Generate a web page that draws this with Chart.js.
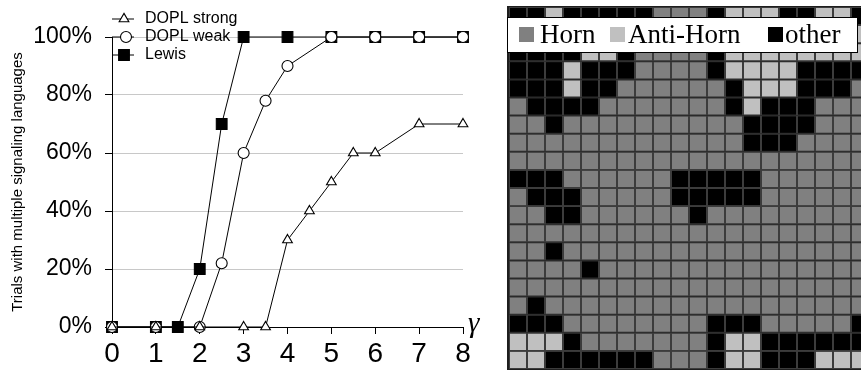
<!DOCTYPE html>
<html><head><meta charset="utf-8">
<script src="https://cdn.jsdelivr.net/npm/chart.js@4/dist/chart.umd.min.js"></script>
<style>
html,body{margin:0;padding:0;overflow:hidden;background:#fff;width:861px;height:370px}
#c1{position:absolute;left:0;top:0}
#c2{position:absolute;left:505px;top:0}
</style></head><body>
<canvas id="c1" width="500" height="370"></canvas>
<canvas id="c2" width="370" height="370"></canvas>
<script>
// ---- line chart data ----
const gammaTicks = [0, 1, 2, 3, 4, 5, 6, 7, 8];
const percentTicks = [0, 20, 40, 60, 80, 100];
const strongX = [0, 1, 2, 3, 3.5, 4, 4.5, 5, 5.5, 6, 7, 8];
const strongY = [0, 0, 0, 0, 0, 30, 40, 50, 60, 60, 70, 70];
const weakX = [0, 1, 2, 2.5, 3, 3.5, 4, 5, 6, 7, 8];
const weakY = [0, 0, 0, 22, 60, 78, 90, 100, 100, 100, 100];
const lewisX = [0, 1, 1.5, 2, 2.5, 3, 4, 5, 6, 7, 8];
const lewisY = [0, 0, 0, 20, 70, 100, 100, 100, 100, 100, 100];
const seriesNames = ['DOPL strong', 'DOPL weak', 'Lewis'];
const yTitle = 'Trials with multiple signaling languages';
const xTitle = 'γ';

// ---- grid data (G = Horn, L = Anti-Horn, B = other) ----
const gridRows = [
  "BBLBBBBBGGGBLLLBBLLB",
  "BBBBLLBGGGGBLLLLLLLL",
  "BBBBLLBGGGGBLLLLLLLL",
  "BBBLBBBGGGGBLLLLBBBB",
  "BBBLBBGGGGGGBLLLBBBG",
  "GBBBBGGGGGGGBLBBBGGG",
  "GGBGGGGGGGGGGBBBBGGG",
  "GGGGGGGGGGGGGBBBGGGG",
  "GGGGGGGGGGGGGGGGGGGG",
  "BBBGGGGGGBBBBBGGGGGG",
  "GBBBGGGGGBBBBBGGGGGG",
  "GGBBGGGGGGBGGGGGGGGG",
  "GGGGGGGGGGGGGGGGGGGG",
  "GGBGGGGGGGGGGGGGGGGG",
  "GGGGBGGGGGGGGGGGGGGG",
  "GGGGGGGGGGGGGGGGGGGG",
  "GBGGGGGGGGGGGGGGGGGG",
  "BBBGGGGGGGGBBBGGGGGB",
  "LLLBGGGGGGGBLLBBBBBB",
  "LLBBBBBBGGGBLLBBBLLL"
];
const gridCodes = ['G', 'L', 'B'];
const gridNames = ['Horn', 'Anti-Horn', 'other'];
const gridColors = ['#808080', '#c0c0c0', '#000000'];

Chart.defaults.font.family = '"Liberation Sans", Arial, sans-serif';
Chart.defaults.color = '#000';

function pts(xs, ys) { return xs.map((x, i) => ({ x: x, y: ys[i] })); }

const inlineLegend = {
  id: 'inlineLegend',
  afterDraw(chart) {
    const ctx = chart.ctx, a = chart.chartArea;
    const offs = [2, 4, 2];
    chart.data.datasets.forEach((ds, i) => {
      const y = a.top - 18 + i * 18;
      ctx.save();
      ctx.strokeStyle = '#000'; ctx.lineWidth = 1;
      ctx.beginPath(); ctx.moveTo(a.left, y); ctx.lineTo(a.left + 22, y); ctx.stroke();
      ctx.fillStyle = ds.pointBackgroundColor;
      ctx.lineWidth = ds.pointBorderWidth;
      Chart.helpers.drawPoint(ctx, { pointStyle: ds.pointStyle, radius: ds.pointRadius, borderWidth: ds.pointBorderWidth, rotation: 0 }, a.left + 10 + offs[i], y);
      ctx.fillStyle = '#000';
      ctx.font = '16px "Liberation Sans"';
      ctx.textBaseline = 'middle'; ctx.textAlign = 'left';
      ctx.fillText(ds.label, a.left + 33, y);
      ctx.restore();
    });
    ctx.save();
    ctx.font = 'italic 29px "Liberation Serif"';
    ctx.fillStyle = '#000'; ctx.textBaseline = 'alphabetic';
    ctx.fillText(xTitle, a.right + 5, a.bottom + 5);
    ctx.restore();
  }
};

const styles = [
  { pointStyle: 'triangle', pointRadius: 5.6, pointBackgroundColor: '#fff' },
  { pointStyle: 'circle', pointRadius: 5.5, pointBackgroundColor: '#fff' },
  { pointStyle: 'rect', pointRadius: 7.6, pointBackgroundColor: '#000' }
];
const seriesData = [pts(strongX, strongY), pts(weakX, weakY), pts(lewisX, lewisY)];

new Chart(document.getElementById('c1'), {
  type: 'line',
  data: {
    datasets: seriesNames.map((n, i) => Object.assign({
      label: n, data: seriesData[i], borderColor: '#000', borderWidth: 1,
      pointBorderColor: '#000', pointBorderWidth: 1.1, tension: 0, clip: false
    }, styles[i]))
  },
  options: {
    responsive: false, animation: false,
    layout: { padding: { top: 37, right: 37, left: 0, bottom: 0 } },
    plugins: { legend: { display: false }, tooltip: { enabled: false } },
    scales: {
      x: {
        type: 'linear', min: 0, max: 8,
        afterBuildTicks: s => { s.ticks = gammaTicks.map(v => ({ value: v })); },
        ticks: { font: { size: 28 }, color: '#000', padding: 3 },
        grid: { drawOnChartArea: false, tickLength: 7, tickColor: '#000' },
        border: { color: '#000', width: 1 },
        afterFit: s => { s.height = 43; }
      },
      y: {
        type: 'linear', min: 0, max: 100,
        afterBuildTicks: s => { s.ticks = percentTicks.map(v => ({ value: v })); },
        ticks: { callback: v => v + '%', font: { size: 23 }, color: '#000', padding: 13 },
        grid: { color: '#c8c8c8', tickColor: '#000', tickLength: 7 },
        border: { color: '#000', width: 1 },
        title: { display: true, text: yTitle, font: { size: 15 }, color: '#000', padding: { top: 9, bottom: 0 } },
        afterFit: s => { s.width = 112; }
      }
    }
  },
  plugins: [inlineLegend]
});

// ---- heat grid ----
const framePlugin = {
  id: 'frame',
  beforeDatasetsDraw(chart) {
    const ctx = chart.ctx, a = chart.chartArea;
    ctx.save(); ctx.fillStyle = '#1e1e1e';
    ctx.fillRect(a.left - 2, a.top - 1, a.width + 4, a.height + 2);
    ctx.restore();
  }
};
const gridLegend = {
  id: 'gridLegend',
  afterDraw(chart) {
    const ctx = chart.ctx;
    ctx.save();
    ctx.fillStyle = '#fff'; ctx.fillRect(2, 17, 351, 36);
    ctx.strokeStyle = '#000'; ctx.lineWidth = 1; ctx.strokeRect(2.5, 17.5, 350, 35);
    const sx = [14, 105, 263], tx = [35, 123, 280];
    ctx.font = '27px "Liberation Serif"'; ctx.textBaseline = 'alphabetic';
    gridNames.forEach((n, i) => {
      ctx.fillStyle = gridColors[i]; ctx.fillRect(sx[i], 27, 15, 15);
      ctx.fillStyle = '#000'; ctx.fillText(n, tx[i], 43);
    });
    ctx.restore();
  }
};
const columnIds = gridRows[0].split('').map((_, i) => i + 1);
new Chart(document.getElementById('c2'), {
  type: 'bar',
  data: {
    labels: columnIds,
    datasets: gridRows.map(row => ({
      data: row.split('').map(() => 1),
      backgroundColor: row.split('').map(c => gridColors[gridCodes.indexOf(c)]),
      borderColor: '#3c3c3c', borderWidth: 1, borderSkipped: false,
      categoryPercentage: 1, barPercentage: 1, inflateAmount: 0
    }))
  },
  options: {
    responsive: false, animation: false,
    layout: { padding: { left: 4, top: 7, right: 6, bottom: 1 } },
    plugins: { legend: { display: false }, tooltip: { enabled: false } },
    scales: {
      x: { display: false, stacked: true },
      y: { display: false, stacked: true, min: 0, max: 20, reverse: true }
    }
  },
  plugins: [framePlugin, gridLegend]
});
</script>
</body></html>
